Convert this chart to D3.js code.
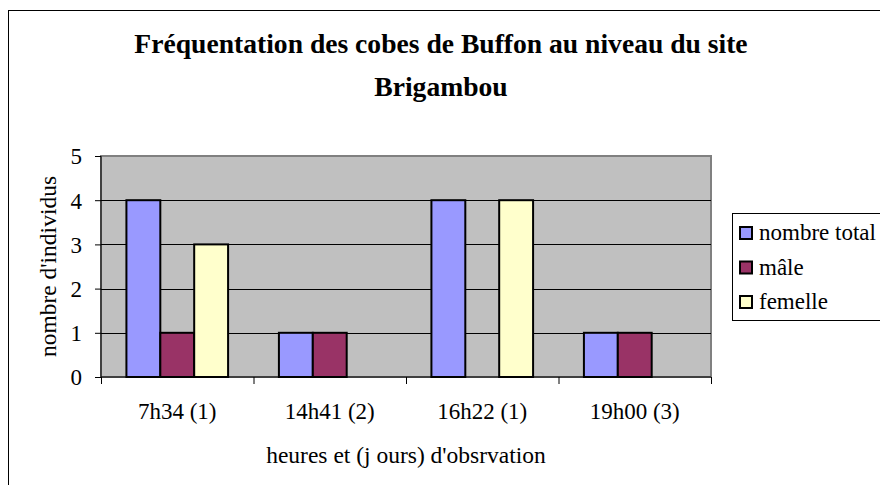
<!DOCTYPE html>
<html>
<head>
<meta charset="utf-8">
<script src="https://cdn.jsdelivr.net/npm/d3@7"></script>
</head>
<body style="margin:0">
<svg id="chart" width="880" height="485"></svg>
<script>
// Observation times (with day count) and the counts per group
const categories = ["7h34 (1)", "14h41 (2)", "16h22 (1)", "19h00 (3)"];
const seriesNames = ["nombre total", "mâle", "femelle"];
const totalValues = [4, 1, 4, 1];
const maleValues = [1, 1, 0, 1];
const femaleValues = [3, 0, 4, 0];
const yTicks = [0, 1, 2, 3, 4, 5];
const seriesColors = ["#9999FF", "#993366", "#FFFFCC"];

const series = [totalValues, maleValues, femaleValues];
const FONT = "Liberation Serif";

const svg = d3.select("#chart");

// Serif text helper: family set both as attribute and inline style
function serif(sel, size) {
  return sel.attr("font-family", FONT)
    .attr("font-size", size)
    .style("font-family", `'${FONT}'`);
}

// Outer chart frame
svg.append("rect")
  .attr("x", 8.5).attr("y", 10.5)
  .attr("width", 900).attr("height", 500)
  .attr("fill", "#fff").attr("stroke", "#000").attr("stroke-width", 1);

const plot = { left: 101, right: 711, top: 156, bottom: 377 };

const x0 = d3.scaleBand()
  .domain(categories)
  .range([plot.left, plot.right])
  .paddingInner(0)
  .paddingOuter(0);

const bw = x0.bandwidth();
const groupW = bw * 3 / 4.5;          // three bars, half-bar gap on each side
const x1 = d3.scaleBand()
  .domain(seriesNames)
  .range([0, groupW]);

const y = d3.scaleLinear().domain([0, 5]).range([plot.bottom, plot.top]);

// Plot background
svg.append("rect")
  .attr("x", plot.left).attr("y", plot.top)
  .attr("width", plot.right - plot.left).attr("height", plot.bottom - plot.top)
  .attr("fill", "#C0C0C0").attr("stroke", "#808080").attr("stroke-width", 2);

// Horizontal gridlines
svg.append("g")
  .selectAll("line")
  .data(yTicks.filter(t => t > 0 && t < 5))
  .join("line")
  .attr("x1", plot.left).attr("x2", plot.right)
  .attr("y1", d => Math.round(y(d)) + 0.5).attr("y2", d => Math.round(y(d)) + 0.5)
  .attr("stroke", "#000").attr("stroke-width", 1);

// Bars
const groups = svg.append("g")
  .selectAll("g")
  .data(categories)
  .join("g")
  .attr("transform", d => `translate(${x0(d) + (bw - groupW) / 2},0)`);

groups.selectAll("rect")
  .data((d, i) => seriesNames.map((s, j) => ({ s, j, v: series[j][i] })))
  .join("rect")
  .attr("x", d => x1(d.s))
  .attr("width", x1.bandwidth())
  .attr("y", d => y(d.v))
  .attr("height", d => y(0) - y(d.v))
  .attr("fill", d => seriesColors[d.j])
  .attr("stroke", "#000")
  .attr("stroke-width", d => d.v > 0 ? 2 : 0);

// Y axis
const yAxis = d3.axisLeft(y).tickValues(yTicks).tickSize(6).tickPadding(13).tickFormat(d3.format("d"));
const gy = svg.append("g")
  .attr("transform", `translate(${plot.left},0)`)
  .call(yAxis);
serif(gy, 23);
gy.select(".domain").attr("stroke", "#000").attr("d", `M0,${plot.top}V${plot.bottom}`);
gy.selectAll(".tick line").attr("stroke", "#000");
serif(gy.selectAll("text"), 23)
  .attr("fill", "#000")
  .attr("dy", "0.34em");

// X axis: ticks at category boundaries
const boundaries = categories.map(c => x0(c)).concat([plot.right]);
const xb = d3.scaleLinear().domain([plot.left, plot.right]).range([plot.left, plot.right]);
const gx = svg.append("g")
  .attr("transform", `translate(0,${plot.bottom})`)
  .call(d3.axisBottom(xb).tickValues(boundaries).tickSize(7).tickFormat(""));
gx.select(".domain").attr("stroke", "#000").attr("d", `M${plot.left},0H${plot.right}`);
gx.selectAll(".tick line").attr("stroke", "#000");

// Category labels centred under each band
serif(svg.append("g")
  .selectAll("text")
  .data(categories)
  .join("text"), 23)
  .attr("x", d => x0(d) + bw / 2)
  .attr("y", 419)
  .attr("text-anchor", "middle")
  .text(d => d);

// Axis titles
serif(svg.append("text"), 23.5)
  .attr("x", (plot.left + plot.right) / 2)
  .attr("y", 463)
  .attr("text-anchor", "middle")
  .text("heures et (j ours) d'obsrvation");

serif(svg.append("text"), 23.5)
  .attr("transform", `translate(56,${(plot.top + plot.bottom) / 2}) rotate(-90)`)
  .attr("text-anchor", "middle")
  .text("nombre d'individus");

// Title
const title = serif(svg.append("text"), 27.6)
  .attr("text-anchor", "middle")
  .attr("font-weight", "bold");
title.append("tspan").attr("x", 441).attr("y", 53).text("Fréquentation des cobes de Buffon au niveau du site");
title.append("tspan").attr("x", 441).attr("y", 96).text("Brigambou");

// Legend
const legend = svg.append("g");
legend.append("rect")
  .attr("x", 732.5).attr("y", 213.5)
  .attr("width", 200).attr("height", 107)
  .attr("fill", "#fff").attr("stroke", "#000").attr("stroke-width", 1);

const items = legend.selectAll("g.item")
  .data(seriesNames)
  .join("g")
  .attr("class", "item")
  .attr("transform", (d, i) => `translate(0,${240 + i * 34.5})`);

items.append("rect")
  .attr("x", 740).attr("y", -13)
  .attr("width", 12).attr("height", 12)
  .attr("fill", (d, i) => seriesColors[i])
  .attr("stroke", "#000").attr("stroke-width", 2);

serif(items.append("text"), 23)
  .attr("x", 759).attr("y", 0)
  .text(d => d);
</script>
</body>
</html>
